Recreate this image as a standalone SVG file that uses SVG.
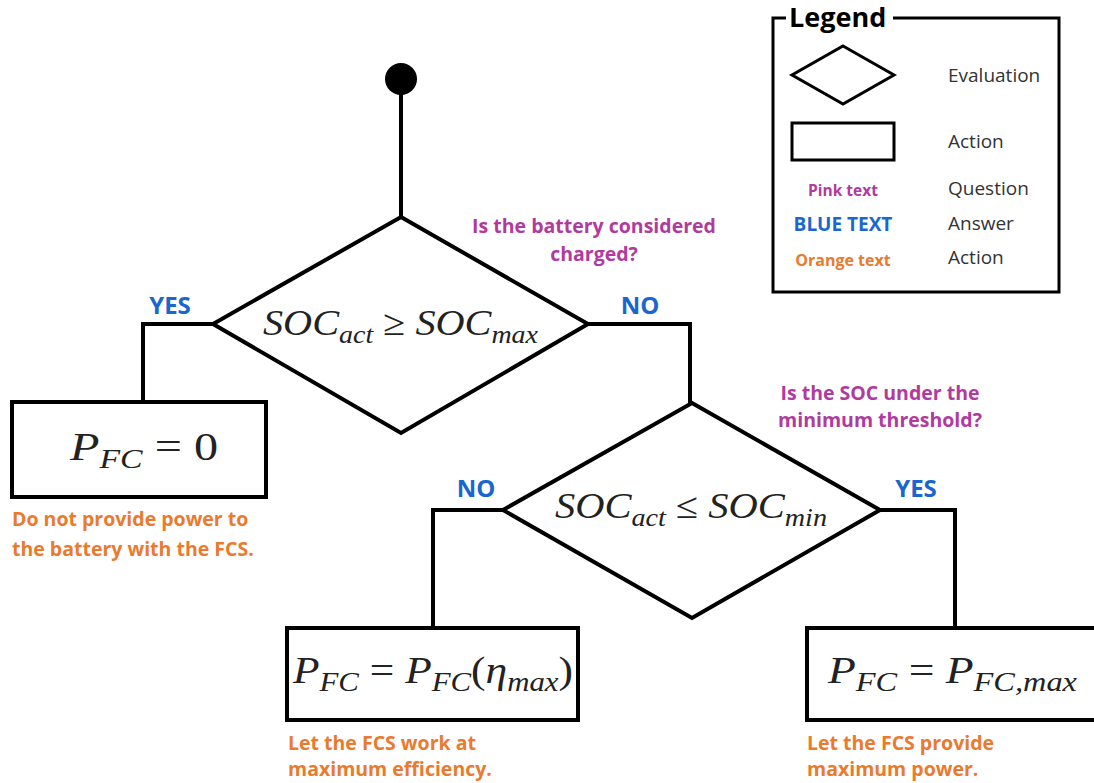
<svg xmlns="http://www.w3.org/2000/svg" width="1094" height="783" viewBox="0 0 1094 783">
<style>
.shape{fill:none;stroke:#000;stroke-width:4;stroke-linejoin:miter}
.lg{fill:none;stroke:#000;stroke-width:3}
.conn{fill:none;stroke:#000;stroke-width:4}
.math{font-family:"Liberation Serif",serif;font-style:italic;fill:#222}
.up{font-style:normal}
.q{font-family:"Open Sans",sans-serif;font-weight:bold;font-size:19.5px;fill:#b13a9f}
.a{font-family:"Open Sans",sans-serif;font-weight:bold;font-size:24px;fill:#1a66d0}
.o{font-family:"Open Sans",sans-serif;font-weight:bold;font-size:19.5px;fill:#ea7a2e}
.lt{font-family:"Open Sans",sans-serif;font-size:19px;fill:#333}
</style>
<rect width="1094" height="783" fill="#fff"/>
<g id="connectors">
<line class="conn" x1="401" y1="90" x2="401" y2="217"/>
<polyline class="conn" points="213,324 143,324 143,401"/>
<polyline class="conn" points="588,324 690,324 690,403"/>
<polyline class="conn" points="503,510 433,510 433,628"/>
<polyline class="conn" points="880,510 955,510 955,628"/>
</g>
<g id="start"><circle cx="401" cy="79" r="16" fill="#000"/></g>
<g id="decision1">
<polygon class="shape" points="401,217 588,324 401,433 213,324"/>
<text class="math" x="263" y="335" font-size="36" textLength="275" lengthAdjust="spacingAndGlyphs">SOC<tspan font-size="25" dy="8">act</tspan><tspan class="up" dy="-8"> ≥ </tspan>SOC<tspan font-size="25" dy="8">max</tspan></text>
</g>
<g id="decision2">
<polygon class="shape" points="692,403 880,510 692,618 503,510"/>
<text class="math" x="555" y="518" font-size="36" textLength="272" lengthAdjust="spacingAndGlyphs">SOC<tspan font-size="25" dy="8">act</tspan><tspan class="up" dy="-8"> ≤ </tspan>SOC<tspan font-size="25" dy="8">min</tspan></text>
</g>
<g id="action1">
<rect class="shape" x="12" y="402" width="254" height="95"/>
<text class="math" x="70" y="460" font-size="40" textLength="148" lengthAdjust="spacingAndGlyphs">P<tspan font-size="28" dy="8">FC</tspan><tspan class="up" dy="-8"> = 0</tspan></text>
</g>
<g id="action2">
<rect class="shape" x="287" y="628" width="291" height="92"/>
<text class="math" x="293" y="683" font-size="38" textLength="280" lengthAdjust="spacingAndGlyphs">P<tspan font-size="27" dy="8">FC</tspan><tspan class="up" dy="-8"> = </tspan>P<tspan font-size="27" dy="8">FC</tspan><tspan class="up" dy="-8">(</tspan>η<tspan font-size="27" dy="8">max</tspan><tspan class="up" dy="-8">)</tspan></text>
</g>
<g id="action3">
<rect class="shape" x="807" y="628" width="300" height="92"/>
<text class="math" x="828" y="683" font-size="38" textLength="249" lengthAdjust="spacingAndGlyphs">P<tspan font-size="27" dy="8">FC</tspan><tspan class="up" dy="-8"> = </tspan>P<tspan font-size="27" dy="8">FC,max</tspan></text>
</g>
<g id="labels">
<text class="q" x="594" y="233" text-anchor="middle">Is the battery considered</text>
<text class="q" x="594" y="261" text-anchor="middle">charged?</text>
<text class="q" x="880" y="400" text-anchor="middle">Is the SOC under the</text>
<text class="q" x="880" y="427" text-anchor="middle">minimum threshold?</text>
<text class="a" x="170" y="314" text-anchor="middle">YES</text>
<text class="a" x="640" y="314" text-anchor="middle">NO</text>
<text class="a" x="476" y="497" text-anchor="middle">NO</text>
<text class="a" x="916" y="497" text-anchor="middle">YES</text>
<text class="o" x="12" y="526">Do not provide power to</text>
<text class="o" x="12" y="556">the battery with the FCS.</text>
<text class="o" x="288" y="750">Let the FCS work at</text>
<text class="o" x="288" y="776">maximum efficiency.</text>
<text class="o" x="807" y="750">Let the FCS provide</text>
<text class="o" x="807" y="776">maximum power.</text>
</g>
<g id="legend">
<polyline class="lg" points="786,18 773,18 773,292 1059,292 1059,18 893,18"/>
<text x="789" y="27" font-family="'Open Sans',sans-serif" font-weight="bold" font-size="27" fill="#000">Legend</text>
<polygon class="lg" points="843,46 894,75 843,104 792,75"/>
<rect class="lg" x="792" y="123" width="102" height="37"/>
<text class="lt" x="948" y="82">Evaluation</text>
<text class="lt" x="948" y="148">Action</text>
<text class="lt" x="948" y="195">Question</text>
<text class="lt" x="948" y="230">Answer</text>
<text class="lt" x="948" y="264">Action</text>
<text x="843" y="196" text-anchor="middle" font-family="'Open Sans',sans-serif" font-weight="bold" font-size="15.5" fill="#b13a9f">Pink text</text>
<text x="843" y="231" text-anchor="middle" font-family="'Open Sans',sans-serif" font-weight="bold" font-size="19" fill="#1a66d0">BLUE TEXT</text>
<text x="843" y="266" text-anchor="middle" font-family="'Open Sans',sans-serif" font-weight="bold" font-size="16" fill="#ea7a2e">Orange text</text>
</g>
</svg>
